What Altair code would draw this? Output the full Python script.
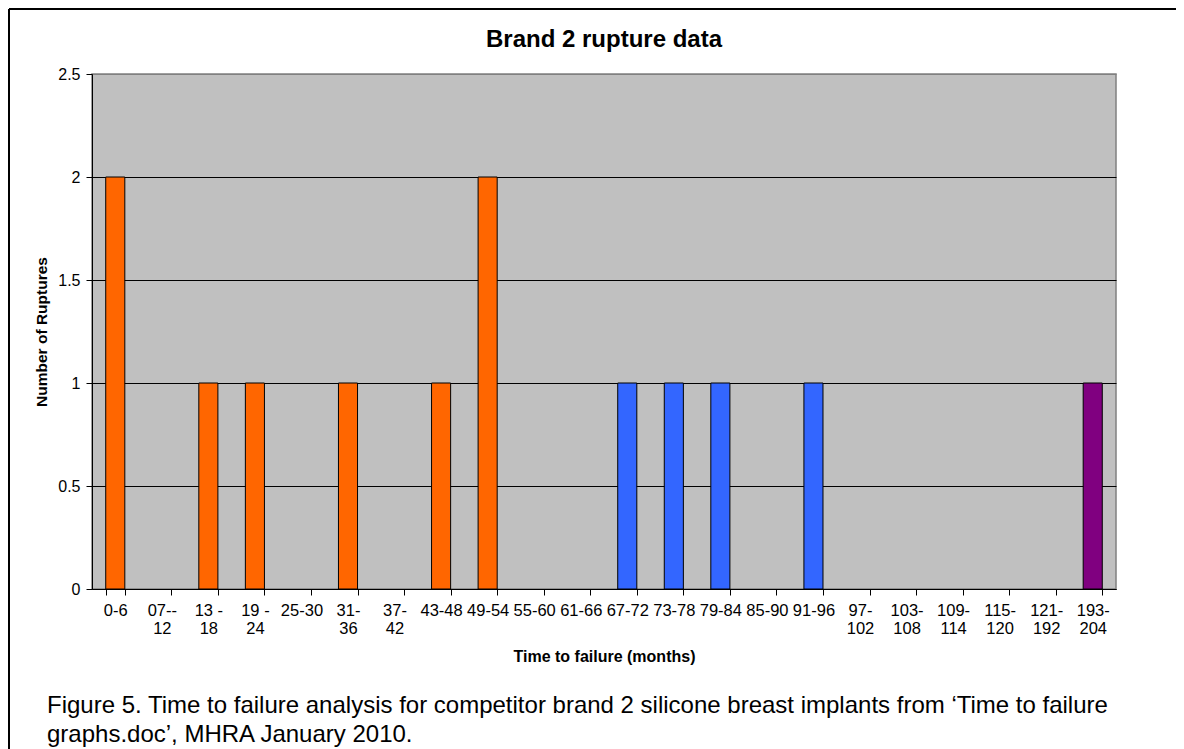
import altair as alt
import pandas as pd

# ---- data ----
tick_labels = ["0-6", "07--|12", "13 -|18", "19 -|24", "25-30", "31-|36", "37-|42",
               "43-48", "49-54", "55-60", "61-66", "67-72", "73-78", "79-84",
               "85-90", "91-96", "97-|102", "103-|108", "109-|114", "115-|120",
               "121-|192", "193-|204"]
ruptures = [2, 0, 1, 1, 0, 1, 0, 1, 2, 0, 0, 1, 1, 1, 0, 1, 0, 0, 0, 0, 0, 1]
groups = ["a", "a", "a", "a", "a", "a", "a", "a", "a", "a", "a",
          "b", "b", "b", "b", "b", "c", "c", "c", "c", "c", "c"]
group_names = ["a", "b", "c"]
group_colors = ["#FF6600", "#3366FF", "#800080"]
y_ticks = [0, 0.5, 1, 1.5, 2, 2.5]
title_text = "Brand 2 rupture data"
caption = ["Figure 5. Time to failure analysis for competitor brand 2 silicone breast implants from \u2018Time to failure",
           "graphs.doc\u2019, MHRA January 2010."]

df = pd.DataFrame({"cat": tick_labels, "n": ruptures, "g": groups})

FONT = "Liberation Sans"
W, H = 1024, 515

bars = alt.Chart(df).transform_filter("datum.n > 0").mark_bar(
    stroke="black", strokeWidth=1).encode(
    x=alt.X("cat:N", scale=alt.Scale(domain=tick_labels, paddingInner=0.59, paddingOuter=0.295),
            axis=alt.Axis(title="Time to failure (months)", labelAngle=0,
                          labelExpr="split(datum.label, '|')",
                          labelFontSize=16.5, labelLineHeight=18, labelPadding=7,
                          labelColor="black", labelFont=FONT, labelOverlap=False,
                          tickBand="extent", tickSize=6, tickColor="black",
                          domainColor="black", grid=False,
                          titleFont=FONT, titleFontSize=16, titleFontWeight="bold",
                          titleColor="black", titleX=W / 2, titleY=67,
                          titleBaseline="middle", titleAlign="center")),
    y=alt.Y("n:Q", scale=alt.Scale(domain=[0, 2.5], nice=False),
            axis=alt.Axis(title="Number of Ruptures", values=y_ticks, format="~g",
                          labelFontSize=16, labelColor="black", labelFont=FONT,
                          labelPadding=6, tickSize=6, tickColor="black",
                          domainColor="black", grid=True,
                          gridColor={"condition": {"test": "datum.value >= 2.5", "value": "#808080"},
                                     "value": "black"},
                          gridWidth=1, gridOpacity=1,
                          titleFont=FONT, titleFontSize=15.5, titleFontWeight="bold",
                          titleColor="black", titleX=-51, titleY=H / 2,
                          titleAngle=270, titleBaseline="middle", titleAlign="center")),
    color=alt.Color("g:N", scale=alt.Scale(domain=group_names, range=group_colors),
                    legend=None),
)

one = pd.DataFrame({"t": [0]})

title = alt.Chart(one).mark_text(
    font=FONT, fontSize=24, fontWeight="bold", align="center",
    baseline="alphabetic", color="black"
).encode(x=alt.value(W / 2), y=alt.value(-27), text=alt.value(title_text))

cap = alt.Chart(one).mark_text(
    font=FONT, fontSize=24, align="left", baseline="alphabetic",
    lineHeight=29, color="black"
).encode(x=alt.value(-45), y=alt.value(639), text=alt.value(caption))

frame_top = alt.Chart(one).mark_rule(
    color="black", strokeWidth=2).encode(
    x=alt.value(-83), x2=alt.value(1200), y=alt.value(-65))
frame_left = alt.Chart(one).mark_rule(
    color="black", strokeWidth=2).encode(
    x=alt.value(-83), y=alt.value(-65), y2=alt.value(700))

chart = alt.layer(bars, title, cap, frame_top, frame_left).properties(
    width=W, height=H,
    autosize=alt.AutoSizeParams(type="none"),
    padding={"left": 84, "top": 66, "right": 60, "bottom": 160},
    background="white",
).configure_view(
    fill="#C0C0C0", stroke="#808080", strokeWidth=1.5
)

chart.save("out.html", embed_options={"renderer": "svg", "actions": False})
